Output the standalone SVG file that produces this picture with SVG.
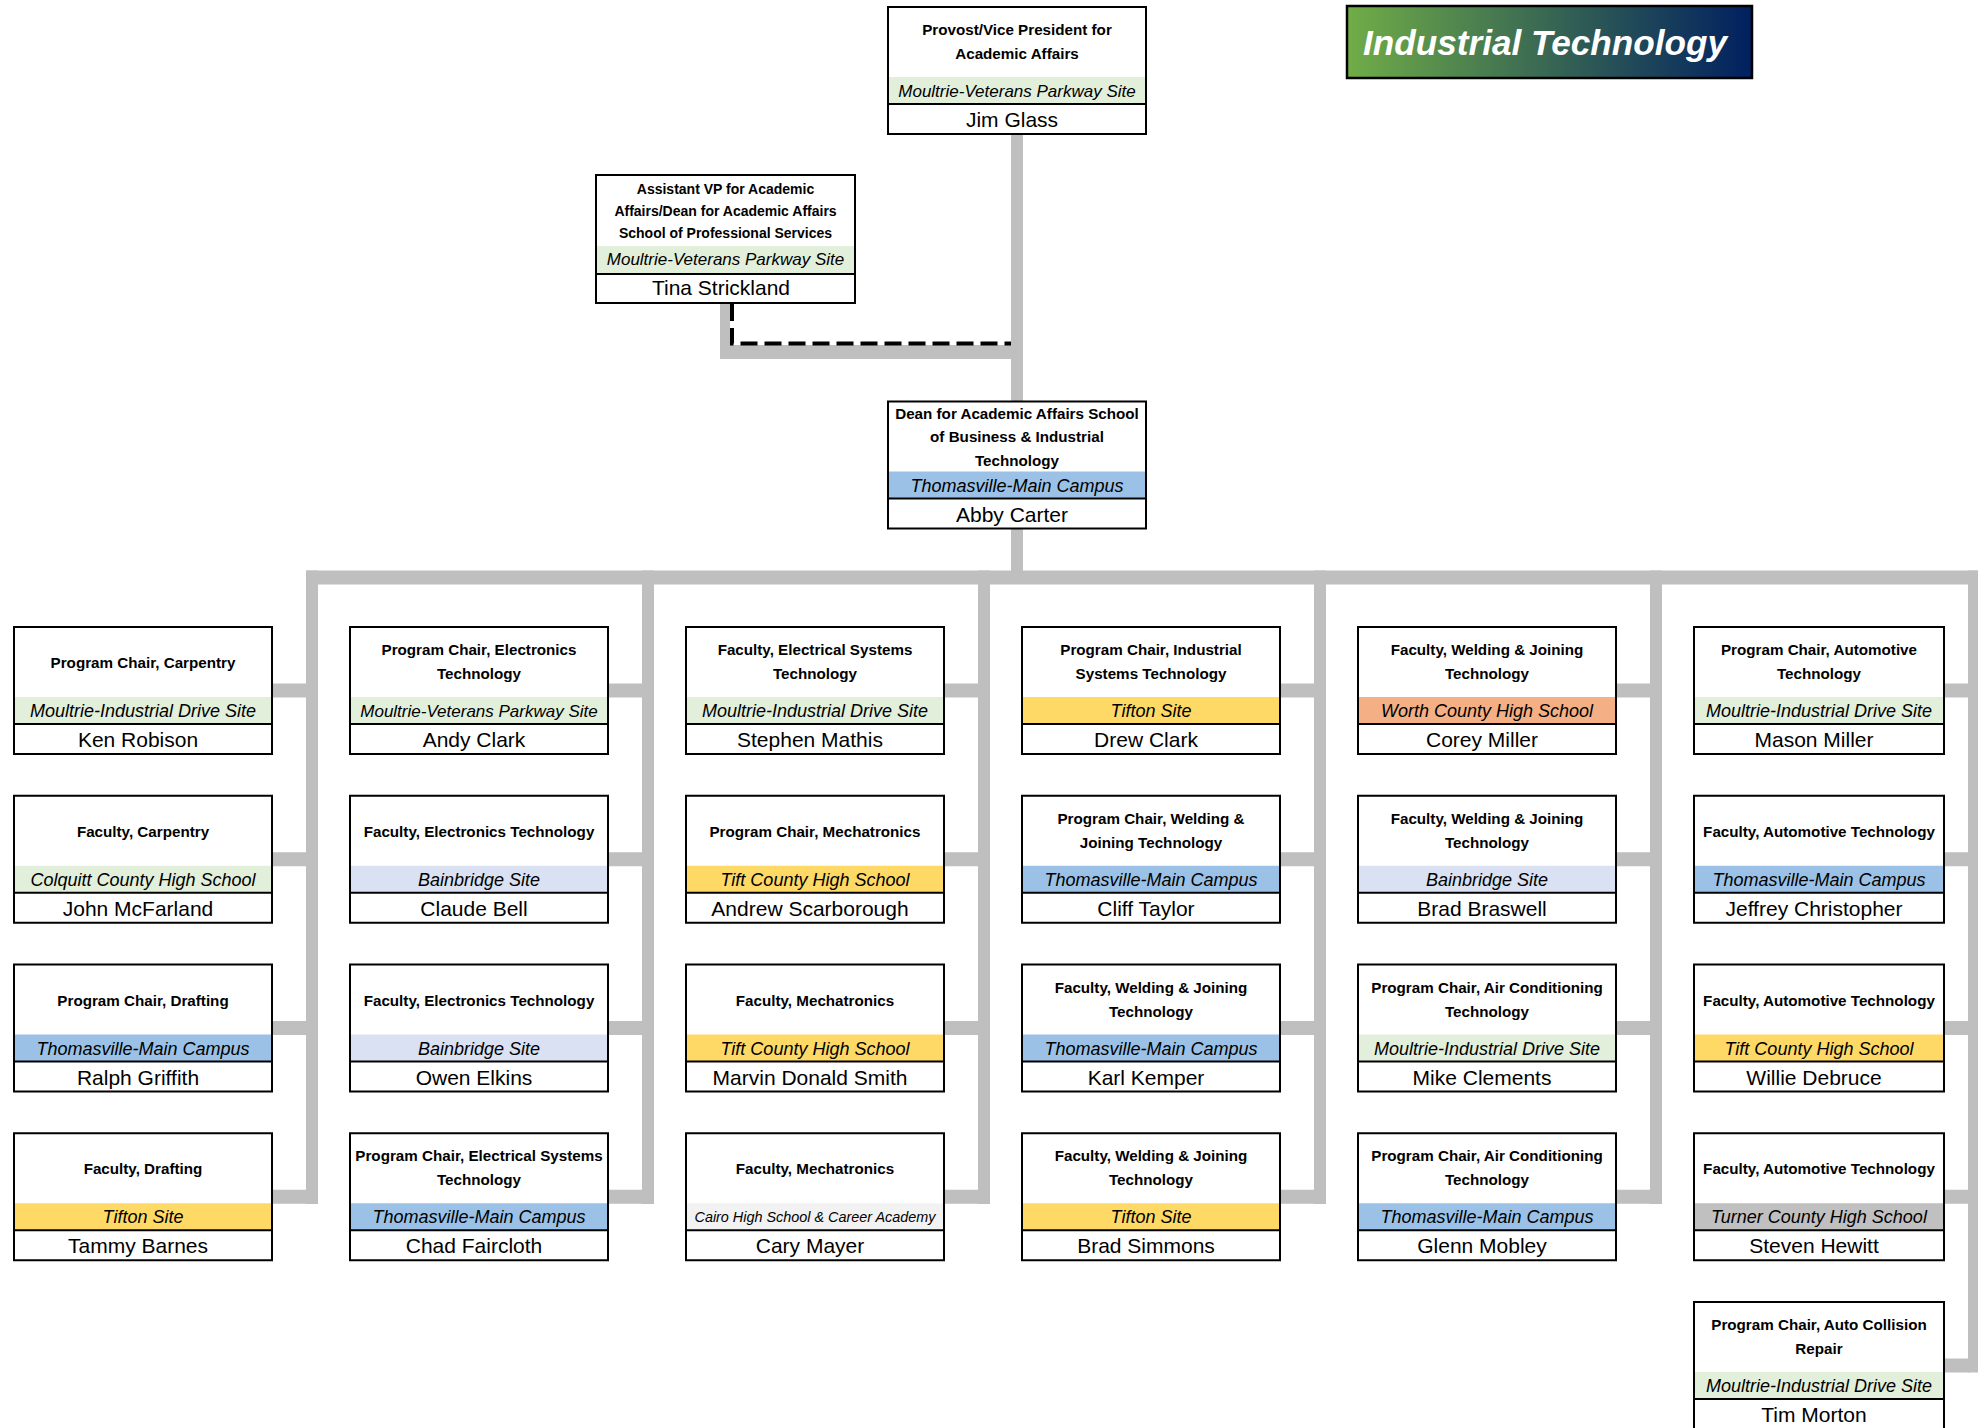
<svg xmlns="http://www.w3.org/2000/svg" width="1986" height="1428" viewBox="0 0 1986 1428">
<defs>
<linearGradient id="tg" x1="0" y1="0" x2="1" y2="0">
<stop offset="0" stop-color="#70ad47"/>
<stop offset="1" stop-color="#002060"/>
</linearGradient>
<style>
text{font-family:"Liberation Sans",Arial,sans-serif;fill:#000;text-anchor:middle}
.bg{fill:#fff}
.fr{fill:none;stroke:#000;stroke-width:2}
.dv{stroke:#000;stroke-width:2}
.t{font-weight:bold;font-size:15.2px}
.ts{font-weight:bold;font-size:14px}
.s{font-style:italic;font-size:18px}
.sv{font-style:italic;font-size:17px}
.sm{font-style:italic;font-size:14.4px}
.n{font-size:21px}
.g{fill:#e2efda}.b{fill:#9bc2e6}.y{fill:#ffd966}.o{fill:#f4b084}.l{fill:#d9e1f2}.gr{fill:#c0c0c0}.c{fill:#f2f2f2}
.cn{fill:#bfbfbf}
.ttl{font-weight:bold;font-style:italic;font-size:35px;fill:#fff}
</style>
</defs>
<rect width="1986" height="1428" fill="#fff"/>

<g id="connectors">
<rect class="cn" x="1011" y="134" width="12" height="268"/>
<rect class="cn" x="1011" y="528" width="12" height="44"/>
<rect class="cn" x="720" y="303" width="10" height="56"/>
<rect class="cn" x="720" y="345" width="303" height="14"/>
<path d="M732,304 V343.5 H1011" fill="none" stroke="#000" stroke-width="4" stroke-dasharray="17 7"/>
<rect class="cn" x="306" y="570.5" width="1672" height="14"/>
<rect class="cn" x="306" y="570.5" width="12" height="633.5"/>
<rect class="cn" x="642" y="570.5" width="12" height="633.5"/>
<rect class="cn" x="978" y="570.5" width="12" height="633.5"/>
<rect class="cn" x="1314" y="570.5" width="12" height="633.5"/>
<rect class="cn" x="1650" y="570.5" width="12" height="633.5"/>
<rect class="cn" x="1968" y="570.5" width="10" height="802"/>
<rect class="cn" x="272" y="683.5" width="36" height="14"/>
<rect class="cn" x="272" y="852.25" width="36" height="14"/>
<rect class="cn" x="272" y="1021" width="36" height="14"/>
<rect class="cn" x="272" y="1189.75" width="36" height="14"/>
<rect class="cn" x="608" y="683.5" width="36" height="14"/>
<rect class="cn" x="608" y="852.25" width="36" height="14"/>
<rect class="cn" x="608" y="1021" width="36" height="14"/>
<rect class="cn" x="608" y="1189.75" width="36" height="14"/>
<rect class="cn" x="944" y="683.5" width="36" height="14"/>
<rect class="cn" x="944" y="852.25" width="36" height="14"/>
<rect class="cn" x="944" y="1021" width="36" height="14"/>
<rect class="cn" x="944" y="1189.75" width="36" height="14"/>
<rect class="cn" x="1280" y="683.5" width="36" height="14"/>
<rect class="cn" x="1280" y="852.25" width="36" height="14"/>
<rect class="cn" x="1280" y="1021" width="36" height="14"/>
<rect class="cn" x="1280" y="1189.75" width="36" height="14"/>
<rect class="cn" x="1616" y="683.5" width="36" height="14"/>
<rect class="cn" x="1616" y="852.25" width="36" height="14"/>
<rect class="cn" x="1616" y="1021" width="36" height="14"/>
<rect class="cn" x="1616" y="1189.75" width="36" height="14"/>
<rect class="cn" x="1944" y="683.5" width="26" height="14"/>
<rect class="cn" x="1944" y="852.25" width="26" height="14"/>
<rect class="cn" x="1944" y="1021" width="26" height="14"/>
<rect class="cn" x="1944" y="1189.75" width="26" height="14"/>
<rect class="cn" x="1944" y="1358.5" width="26" height="14"/>
</g>

<g id="title">
<rect x="1347" y="6" width="405" height="72" fill="url(#tg)" stroke="#000" stroke-width="2.5"/>
<text class="ttl" x="1545" y="55" textLength="364" lengthAdjust="spacingAndGlyphs">Industrial Technology</text>
</g>

<g id="n-jim-glass" transform="translate(888,7)">
<rect class="bg" width="258" height="127"/><rect class="g" y="70" width="258" height="27"/><line class="dv" x1="0" y1="97" x2="258" y2="97"/><rect class="fr" width="258" height="127"/>
<text class="t" x="129" y="28">Provost/Vice President for</text><text class="t" x="129" y="52">Academic Affairs</text>
<text class="sv" x="129" y="90">Moultrie-Veterans Parkway Site</text><text class="n" x="124" y="120">Jim Glass</text>
</g>

<g id="n-tina-strickland" transform="translate(596,175)">
<rect class="bg" width="259" height="128"/><rect class="g" y="71" width="259" height="28"/><line class="dv" x1="0" y1="99" x2="259" y2="99"/><rect class="fr" width="259" height="128"/>
<text class="ts" x="129.5" y="19">Assistant VP for Academic</text><text class="ts" x="129.5" y="41">Affairs/Dean for Academic Affairs</text><text class="ts" x="129.5" y="63">School of Professional Services</text>
<text class="sv" x="129.5" y="90">Moultrie-Veterans Parkway Site</text><text class="n" x="125" y="120">Tina Strickland</text>
</g>

<g id="n-abby-carter" transform="translate(888,401.5)">
<rect class="bg" width="258" height="127"/><rect class="b" y="70" width="258" height="27"/><line class="dv" x1="0" y1="97" x2="258" y2="97"/><rect class="fr" width="258" height="127"/>
<text class="t" x="129" y="17">Dean for Academic Affairs School</text><text class="t" x="129" y="40.5">of Business &amp; Industrial</text><text class="t" x="129" y="64">Technology</text>
<text class="s" x="129" y="90">Thomasville-Main Campus</text><text class="n" x="124" y="120">Abby Carter</text>
</g>

<!-- Column 1 -->
<g id="n-ken-robison" transform="translate(14,627)">
<rect class="bg" width="258" height="127"/><rect class="g" y="70" width="258" height="27"/><line class="dv" x1="0" y1="97" x2="258" y2="97"/><rect class="fr" width="258" height="127"/>
<text class="t" x="129" y="41">Program Chair, Carpentry</text>
<text class="s" x="129" y="90">Moultrie-Industrial Drive Site</text><text class="n" x="124" y="120">Ken Robison</text>
</g>
<g id="n-john-mcfarland" transform="translate(14,795.75)">
<rect class="bg" width="258" height="127"/><rect class="g" y="70" width="258" height="27"/><line class="dv" x1="0" y1="97" x2="258" y2="97"/><rect class="fr" width="258" height="127"/>
<text class="t" x="129" y="41">Faculty, Carpentry</text>
<text class="s" x="129" y="90">Colquitt County High School</text><text class="n" x="124" y="120">John McFarland</text>
</g>
<g id="n-ralph-griffith" transform="translate(14,964.5)">
<rect class="bg" width="258" height="127"/><rect class="b" y="70" width="258" height="27"/><line class="dv" x1="0" y1="97" x2="258" y2="97"/><rect class="fr" width="258" height="127"/>
<text class="t" x="129" y="41">Program Chair, Drafting</text>
<text class="s" x="129" y="90">Thomasville-Main Campus</text><text class="n" x="124" y="120">Ralph Griffith</text>
</g>
<g id="n-tammy-barnes" transform="translate(14,1133.25)">
<rect class="bg" width="258" height="127"/><rect class="y" y="70" width="258" height="27"/><line class="dv" x1="0" y1="97" x2="258" y2="97"/><rect class="fr" width="258" height="127"/>
<text class="t" x="129" y="41">Faculty, Drafting</text>
<text class="s" x="129" y="90">Tifton Site</text><text class="n" x="124" y="120">Tammy Barnes</text>
</g>

<!-- Column 2 -->
<g id="n-andy-clark" transform="translate(350,627)">
<rect class="bg" width="258" height="127"/><rect class="g" y="70" width="258" height="27"/><line class="dv" x1="0" y1="97" x2="258" y2="97"/><rect class="fr" width="258" height="127"/>
<text class="t" x="129" y="28">Program Chair, Electronics</text><text class="t" x="129" y="52">Technology</text>
<text class="sv" x="129" y="90">Moultrie-Veterans Parkway Site</text><text class="n" x="124" y="120">Andy Clark</text>
</g>
<g id="n-claude-bell" transform="translate(350,795.75)">
<rect class="bg" width="258" height="127"/><rect class="l" y="70" width="258" height="27"/><line class="dv" x1="0" y1="97" x2="258" y2="97"/><rect class="fr" width="258" height="127"/>
<text class="t" x="129" y="41">Faculty, Electronics Technology</text>
<text class="s" x="129" y="90">Bainbridge Site</text><text class="n" x="124" y="120">Claude Bell</text>
</g>
<g id="n-owen-elkins" transform="translate(350,964.5)">
<rect class="bg" width="258" height="127"/><rect class="l" y="70" width="258" height="27"/><line class="dv" x1="0" y1="97" x2="258" y2="97"/><rect class="fr" width="258" height="127"/>
<text class="t" x="129" y="41">Faculty, Electronics Technology</text>
<text class="s" x="129" y="90">Bainbridge Site</text><text class="n" x="124" y="120">Owen Elkins</text>
</g>
<g id="n-chad-faircloth" transform="translate(350,1133.25)">
<rect class="bg" width="258" height="127"/><rect class="b" y="70" width="258" height="27"/><line class="dv" x1="0" y1="97" x2="258" y2="97"/><rect class="fr" width="258" height="127"/>
<text class="t" x="129" y="28">Program Chair, Electrical Systems</text><text class="t" x="129" y="52">Technology</text>
<text class="s" x="129" y="90">Thomasville-Main Campus</text><text class="n" x="124" y="120">Chad Faircloth</text>
</g>

<!-- Column 3 -->
<g id="n-stephen-mathis" transform="translate(686,627)">
<rect class="bg" width="258" height="127"/><rect class="g" y="70" width="258" height="27"/><line class="dv" x1="0" y1="97" x2="258" y2="97"/><rect class="fr" width="258" height="127"/>
<text class="t" x="129" y="28">Faculty, Electrical Systems</text><text class="t" x="129" y="52">Technology</text>
<text class="s" x="129" y="90">Moultrie-Industrial Drive Site</text><text class="n" x="124" y="120">Stephen Mathis</text>
</g>
<g id="n-andrew-scarborough" transform="translate(686,795.75)">
<rect class="bg" width="258" height="127"/><rect class="y" y="70" width="258" height="27"/><line class="dv" x1="0" y1="97" x2="258" y2="97"/><rect class="fr" width="258" height="127"/>
<text class="t" x="129" y="41">Program Chair, Mechatronics</text>
<text class="s" x="129" y="90">Tift County High School</text><text class="n" x="124" y="120">Andrew Scarborough</text>
</g>
<g id="n-marvin-donald-smith" transform="translate(686,964.5)">
<rect class="bg" width="258" height="127"/><rect class="y" y="70" width="258" height="27"/><line class="dv" x1="0" y1="97" x2="258" y2="97"/><rect class="fr" width="258" height="127"/>
<text class="t" x="129" y="41">Faculty, Mechatronics</text>
<text class="s" x="129" y="90">Tift County High School</text><text class="n" x="124" y="120">Marvin Donald Smith</text>
</g>
<g id="n-cary-mayer" transform="translate(686,1133.25)">
<rect class="bg" width="258" height="127"/><rect class="c" y="70" width="258" height="27"/><line class="dv" x1="0" y1="97" x2="258" y2="97"/><rect class="fr" width="258" height="127"/>
<text class="t" x="129" y="41">Faculty, Mechatronics</text>
<text class="sm" x="129" y="89">Cairo High School &amp; Career Academy</text><text class="n" x="124" y="120">Cary Mayer</text>
</g>

<!-- Column 4 -->
<g id="n-drew-clark" transform="translate(1022,627)">
<rect class="bg" width="258" height="127"/><rect class="y" y="70" width="258" height="27"/><line class="dv" x1="0" y1="97" x2="258" y2="97"/><rect class="fr" width="258" height="127"/>
<text class="t" x="129" y="28">Program Chair, Industrial</text><text class="t" x="129" y="52">Systems Technology</text>
<text class="s" x="129" y="90">Tifton Site</text><text class="n" x="124" y="120">Drew Clark</text>
</g>
<g id="n-cliff-taylor" transform="translate(1022,795.75)">
<rect class="bg" width="258" height="127"/><rect class="b" y="70" width="258" height="27"/><line class="dv" x1="0" y1="97" x2="258" y2="97"/><rect class="fr" width="258" height="127"/>
<text class="t" x="129" y="28">Program Chair, Welding &amp;</text><text class="t" x="129" y="52">Joining Technology</text>
<text class="s" x="129" y="90">Thomasville-Main Campus</text><text class="n" x="124" y="120">Cliff Taylor</text>
</g>
<g id="n-karl-kemper" transform="translate(1022,964.5)">
<rect class="bg" width="258" height="127"/><rect class="b" y="70" width="258" height="27"/><line class="dv" x1="0" y1="97" x2="258" y2="97"/><rect class="fr" width="258" height="127"/>
<text class="t" x="129" y="28">Faculty, Welding &amp; Joining</text><text class="t" x="129" y="52">Technology</text>
<text class="s" x="129" y="90">Thomasville-Main Campus</text><text class="n" x="124" y="120">Karl Kemper</text>
</g>
<g id="n-brad-simmons" transform="translate(1022,1133.25)">
<rect class="bg" width="258" height="127"/><rect class="y" y="70" width="258" height="27"/><line class="dv" x1="0" y1="97" x2="258" y2="97"/><rect class="fr" width="258" height="127"/>
<text class="t" x="129" y="28">Faculty, Welding &amp; Joining</text><text class="t" x="129" y="52">Technology</text>
<text class="s" x="129" y="90">Tifton Site</text><text class="n" x="124" y="120">Brad Simmons</text>
</g>

<!-- Column 5 -->
<g id="n-corey-miller" transform="translate(1358,627)">
<rect class="bg" width="258" height="127"/><rect class="o" y="70" width="258" height="27"/><line class="dv" x1="0" y1="97" x2="258" y2="97"/><rect class="fr" width="258" height="127"/>
<text class="t" x="129" y="28">Faculty, Welding &amp; Joining</text><text class="t" x="129" y="52">Technology</text>
<text class="s" x="129" y="90">Worth County High School</text><text class="n" x="124" y="120">Corey Miller</text>
</g>
<g id="n-brad-braswell" transform="translate(1358,795.75)">
<rect class="bg" width="258" height="127"/><rect class="l" y="70" width="258" height="27"/><line class="dv" x1="0" y1="97" x2="258" y2="97"/><rect class="fr" width="258" height="127"/>
<text class="t" x="129" y="28">Faculty, Welding &amp; Joining</text><text class="t" x="129" y="52">Technology</text>
<text class="s" x="129" y="90">Bainbridge Site</text><text class="n" x="124" y="120">Brad Braswell</text>
</g>
<g id="n-mike-clements" transform="translate(1358,964.5)">
<rect class="bg" width="258" height="127"/><rect class="g" y="70" width="258" height="27"/><line class="dv" x1="0" y1="97" x2="258" y2="97"/><rect class="fr" width="258" height="127"/>
<text class="t" x="129" y="28">Program Chair, Air Conditioning</text><text class="t" x="129" y="52">Technology</text>
<text class="s" x="129" y="90">Moultrie-Industrial Drive Site</text><text class="n" x="124" y="120">Mike Clements</text>
</g>
<g id="n-glenn-mobley" transform="translate(1358,1133.25)">
<rect class="bg" width="258" height="127"/><rect class="b" y="70" width="258" height="27"/><line class="dv" x1="0" y1="97" x2="258" y2="97"/><rect class="fr" width="258" height="127"/>
<text class="t" x="129" y="28">Program Chair, Air Conditioning</text><text class="t" x="129" y="52">Technology</text>
<text class="s" x="129" y="90">Thomasville-Main Campus</text><text class="n" x="124" y="120">Glenn Mobley</text>
</g>

<!-- Column 6 -->
<g id="n-mason-miller" transform="translate(1694,627)">
<rect class="bg" width="250" height="127"/><rect class="g" y="70" width="250" height="27"/><line class="dv" x1="0" y1="97" x2="250" y2="97"/><rect class="fr" width="250" height="127"/>
<text class="t" x="125" y="28">Program Chair, Automotive</text><text class="t" x="125" y="52">Technology</text>
<text class="s" x="125" y="90">Moultrie-Industrial Drive Site</text><text class="n" x="120" y="120">Mason Miller</text>
</g>
<g id="n-jeffrey-christopher" transform="translate(1694,795.75)">
<rect class="bg" width="250" height="127"/><rect class="b" y="70" width="250" height="27"/><line class="dv" x1="0" y1="97" x2="250" y2="97"/><rect class="fr" width="250" height="127"/>
<text class="t" x="125" y="41">Faculty, Automotive Technology</text>
<text class="s" x="125" y="90">Thomasville-Main Campus</text><text class="n" x="120" y="120">Jeffrey Christopher</text>
</g>
<g id="n-willie-debruce" transform="translate(1694,964.5)">
<rect class="bg" width="250" height="127"/><rect class="y" y="70" width="250" height="27"/><line class="dv" x1="0" y1="97" x2="250" y2="97"/><rect class="fr" width="250" height="127"/>
<text class="t" x="125" y="41">Faculty, Automotive Technology</text>
<text class="s" x="125" y="90">Tift County High School</text><text class="n" x="120" y="120">Willie Debruce</text>
</g>
<g id="n-steven-hewitt" transform="translate(1694,1133.25)">
<rect class="bg" width="250" height="127"/><rect class="gr" y="70" width="250" height="27"/><line class="dv" x1="0" y1="97" x2="250" y2="97"/><rect class="fr" width="250" height="127"/>
<text class="t" x="125" y="41">Faculty, Automotive Technology</text>
<text class="s" x="125" y="90">Turner County High School</text><text class="n" x="120" y="120">Steven Hewitt</text>
</g>
<g id="n-tim-morton" transform="translate(1694,1302)">
<rect class="bg" width="250" height="127"/><rect class="g" y="70" width="250" height="27"/><line class="dv" x1="0" y1="97" x2="250" y2="97"/><rect class="fr" width="250" height="127"/>
<text class="t" x="125" y="28">Program Chair, Auto Collision</text><text class="t" x="125" y="52">Repair</text>
<text class="s" x="125" y="90">Moultrie-Industrial Drive Site</text><text class="n" x="120" y="120">Tim Morton</text>
</g>
</svg>
